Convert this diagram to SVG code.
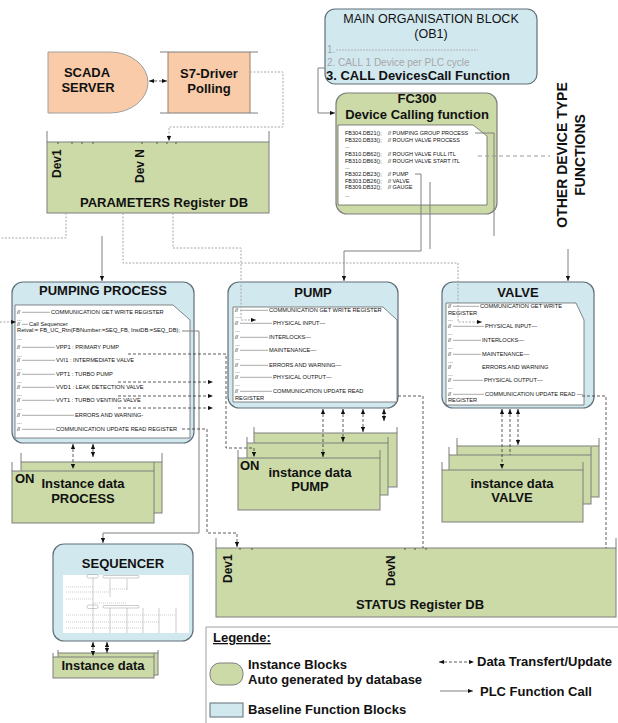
<svg xmlns="http://www.w3.org/2000/svg" width="618" height="723" viewBox="0 0 618 723">
<defs>
<marker id="arr" viewBox="0 0 6 6" refX="6" refY="3" markerWidth="5" markerHeight="5" markerUnits="userSpaceOnUse" orient="auto-start-reverse"><path d="M0,0.5 L6,3 L0,5.5 z" fill="#111"/></marker>
<style>
text{font-family:"Liberation Sans",Arial,sans-serif;fill:#111;}
.t13{font-size:13px;font-weight:bold;}
.t12{font-size:12px;font-weight:bold;}
.green{fill:#CBDAA7;stroke:#7F7F7F;stroke-width:1;}
.blue{fill:#D2E8EF;stroke:#5F6F78;stroke-width:1.2;}
.peach{fill:#F9CBA8;stroke:#A0A0A0;stroke-width:1;}
.doc{fill:#fff;stroke:#555;stroke-width:0.7;}
.side{stroke:#7F7F7F;stroke-width:1;fill:none;}
.tiny{font-size:5.7px;fill:#333;}
.fc{font-size:5.5px;fill:#333;}
.rule{stroke:#555;stroke-width:0.5;fill:none;}
.call{fill:none;stroke:#808080;stroke-width:1;}
.data{fill:none;stroke:#333;stroke-width:0.8;stroke-dasharray:3 2;}
.param{fill:none;stroke:#A8A8A8;stroke-width:1;stroke-dasharray:2 1.5;}
.tick{stroke:#555;stroke-width:1;}
</style>
</defs>
<rect width="618" height="723" fill="#fff"/>

<!-- SCADA server -->
<g id="scada-server">
<path class="peach" d="M48,52H110A38,30.5 0 0 1 110,113H48Z"/>
<text class="t13" x="87" y="77" text-anchor="middle">SCADA</text>
<text class="t13" x="88" y="92" text-anchor="middle">SERVER</text>
</g>

<!-- S7 driver -->
<g id="s7-driver">
<rect x="168" y="52" width="82" height="61" fill="#F9CBA8"/>
<path class="side" d="M160,52H258M160,113H258"/>
<path stroke="#9A7E6C" stroke-width="1" d="M168,52V113M250,52V113"/>
<text class="t13" x="209" y="78" text-anchor="middle">S7-Driver</text>
<text class="t13" x="209" y="93" text-anchor="middle">Polling</text>
</g>

<!-- Parameters register DB -->
<g id="parameters-db">
<rect class="green" x="47" y="142" width="222" height="71"/>
<path class="side" d="M47,131V142M269,131V142"/>
<path class="tick" d="M58,142V144M72,142V144M82,142V144M93,142V144M142,142V144M157,142V144M167,142V144M176,142V144"/>
<text class="t12" transform="translate(61,178) rotate(-90)">Dev1</text>
<text class="t12" transform="translate(144,183) rotate(-90)">Dev N</text>
<text class="t13" x="164" y="207" text-anchor="middle">PARAMETERS Register DB</text>
</g>

<!-- OB1 -->
<g id="ob1">
<rect class="blue" x="325" y="9" width="212" height="75" rx="10"/>
<text x="431" y="23" text-anchor="middle" font-size="12.5">MAIN ORGANISATION BLOCK</text>
<text x="431" y="38" text-anchor="middle" font-size="12.5">(OB1)</text>
<text x="327" y="53" font-size="10" style="fill:#A6A6A6">1.</text>
<path d="M336,50H478" stroke="#A6A6A6" stroke-width="0.8" stroke-dasharray="2 1"/>
<text x="327" y="66" font-size="10" style="fill:#A6A6A6">2. CALL 1 Device per PLC cycle</text>
<text class="t13" x="326" y="80">3. CALL DevicesCall Function</text>
</g>

<!-- FC300 -->
<g id="fc300">
<rect class="green" x="336" y="93" width="161" height="121" rx="11" style="stroke-width:1.2"/>
<text class="t13" x="417" y="103" text-anchor="middle">FC300</text>
<text class="t13" x="417" y="119" text-anchor="middle">Device Calling function</text>
<polygon class="doc" points="338,125 473,125 487,136 487,205 338,205"/>
<g class="fc">
<text x="345" y="135">FB304.DB21();</text><text x="388" y="135">// PUMPING GROUP PROCESS</text>
<text x="345" y="142">FB320.DB33();</text><text x="388" y="142">// ROUGH VALVE PROCESS</text>
<text x="345" y="148">...</text>
<text x="345" y="156">FB310.DB62();</text><text x="388" y="156">// ROUGH VALVE FULL ITL</text>
<text x="345" y="163">FB310.DB63();</text><text x="388" y="163">// ROUGH VALVE START ITL</text>
<text x="345" y="169">...</text>
<text x="345" y="176">FB302.DB23();</text><text x="388" y="176">// PUMP</text>
<text x="345" y="183">FB303.DB26();</text><text x="388" y="183">// VALVE</text>
<text x="345" y="189">FB309.DB32();</text><text x="388" y="189">// GAUGE</text>
<text x="345" y="197">...</text>
</g>
</g>

<!-- other device type functions -->
<g id="other-functions">
<text font-size="14" font-weight="bold" text-anchor="middle" transform="translate(567,155) rotate(-90)">OTHER DEVICE TYPE</text>
<text font-size="14" font-weight="bold" text-anchor="middle" transform="translate(585,155) rotate(-90)">FUNCTIONS</text>
</g>

<!-- Pumping process -->
<g id="pumping-process">
<rect class="blue" x="12" y="282" width="182" height="161" rx="11"/>
<text class="t13" x="103" y="295" text-anchor="middle">PUMPING PROCESS</text>
<polygon class="doc" points="15,305 173,305 190,320 190,438 15,438"/>
<path class="rule" d="M22,312.3H50M22,324.3H28M22,347.3H55M22,360.3H55M22,374.3H55M22,387.3H55M22,400.3H55M22,415.3H74M22,429.3H55"/>
<g class="tiny">
<text x="17" y="314">//</text><text x="51" y="314">COMMUNICATION GET WRITE REGISTER</text>
<text x="17" y="321">...</text>
<text x="17" y="326">//</text><text x="29" y="326">Call Sequencer</text>
<text x="17" y="332" textLength="163" lengthAdjust="spacingAndGlyphs">Retval:= FB_UC_Rtn(FBNumber:=SEQ_FB, InstDB:=SEQ_DB);</text>
<text x="17" y="340">...</text>
<text x="17" y="349">//</text><text x="56" y="349">VPP1 : PRIMARY PUMP</text>
<text x="17" y="357">...</text>
<text x="17" y="362">//</text><text x="56" y="362">VVI1 : INTERMEDIATE VALVE</text>
<text x="17" y="370">...</text>
<text x="17" y="376">//</text><text x="56" y="376">VPT1 : TURBO PUMP</text>
<text x="17" y="383">...</text>
<text x="17" y="389">//</text><text x="56" y="389">VVD1 : LEAK DETECTION VALVE</text>
<text x="17" y="396">...</text>
<text x="17" y="402">//</text><text x="56" y="402">VVT1 : TURBO VENTING VALVE</text>
<text x="17" y="410">...</text>
<text x="17" y="417">//</text><text x="75" y="417">ERRORS AND WARNING-</text>
<text x="17" y="424">...</text>
<text x="17" y="431">//</text><text x="56" y="431">COMMUNICATION UPDATE READ REGISTER</text>
</g>
</g>

<!-- Pump -->
<g id="pump">
<rect class="blue" x="228" y="282" width="170" height="126" rx="11"/>
<text class="t13" x="313" y="297" text-anchor="middle">PUMP</text>
<polygon class="doc" points="233,307 383,307 397,320 397,402 233,402"/>
<path class="rule" d="M240,310.3H268M240,323.3H272M240,337.3H268M240,350.3H268M240,365.3H268M240,377.3H272M240,391.3H272"/>
<g class="tiny">
<text x="235" y="312">//</text><text x="269" y="312">COMMUNICATION GET WRITE REGISTER</text>
<text x="235" y="318">...</text>
<text x="235" y="325">//</text><text x="273" y="325">PHYSICAL INPUT—</text>
<text x="235" y="332">...</text>
<text x="235" y="339">//</text><text x="269" y="339">INTERLOCKS—</text>
<text x="235" y="346">...</text>
<text x="235" y="352">//</text><text x="269" y="352">MAINTENANCE—</text>
<text x="235" y="360">...</text>
<text x="235" y="367">//</text><text x="269" y="367">ERRORS AND WARNING—</text>
<text x="235" y="373">...</text>
<text x="235" y="379">//</text><text x="273" y="379">PHYSICAL OUTPUT—</text>
<text x="235" y="386">...</text>
<text x="235" y="393">//</text><text x="273" y="393">COMMUNICATION UPDATE READ</text>
<text x="235" y="400">REGISTER</text>
</g>
</g>

<!-- Valve -->
<g id="valve">
<rect class="blue" x="442" y="282" width="152" height="126" rx="11"/>
<text class="t13" x="518" y="297" text-anchor="middle">VALVE</text>
<polygon class="doc" points="446,303 576,303 584,320 584,405 446,405"/>
<path class="rule" d="M453,306.3H479M453,326.3H484M453,340.3H481M453,354.3H481M453,380.3H483M453,394.3H484"/>
<g class="tiny">
<text x="448" y="308">//</text><text x="480" y="308">COMMUNICATION GET WRITE</text>
<text x="448" y="315">REGISTER</text>
<text x="448" y="321">...</text>
<text x="448" y="328">//</text><text x="485" y="328">PHYSICAL INPUT—</text>
<text x="448" y="335">...</text>
<text x="448" y="342">//</text><text x="482" y="342">INTERLOCKS—</text>
<text x="448" y="349">...</text>
<text x="448" y="356">//</text><text x="482" y="356">MAINTENANCE—</text>
<text x="448" y="363">...</text>
<text x="448" y="369">//</text><text x="482" y="369">ERRORS AND WARNING</text>
<text x="448" y="376">...</text>
<text x="448" y="382">//</text><text x="484" y="382">PHYSICAL OUTPUT—</text>
<text x="448" y="389">...</text>
<text x="448" y="396">//</text><text x="485" y="396">COMMUNICATION UPDATE READ —</text>
<text x="448" y="402">REGISTER</text>
</g>
</g>

<!-- Process instance data -->
<g id="instance-process">
<rect class="green" x="21" y="462" width="141" height="51"/>
<path class="side" d="M21,453V462M162,453V462"/>
<rect class="green" x="12" y="471" width="142" height="52"/>
<path class="side" d="M12,462V471M154,462V471"/>
<text class="t13" x="15" y="483">ON</text>
<text class="t13" x="83" y="488" text-anchor="middle">Instance data</text>
<text class="t13" x="83" y="503" text-anchor="middle">PROCESS</text>
</g>

<!-- Pump instance data -->
<g id="instance-pump">
<rect class="green" x="254" y="433" width="143" height="54"/>
<path class="side" d="M254,427V433M397,427V433"/>
<rect class="green" x="247" y="443" width="141" height="52"/>
<path class="side" d="M247,437V443M388,437V443"/>
<rect class="green" x="238" y="458" width="142" height="52"/>
<path class="side" d="M238,450V458M380,450V458"/>
<text class="t13" x="240" y="470">ON</text>
<text class="t13" x="310" y="477" text-anchor="middle">instance data</text>
<text class="t13" x="310" y="491" text-anchor="middle">PUMP</text>
</g>

<!-- Valve instance data -->
<g id="instance-valve">
<rect class="green" x="457" y="446" width="142" height="51"/>
<path class="side" d="M457,438V446M599,438V446"/>
<rect class="green" x="449" y="455" width="142" height="49"/>
<path class="side" d="M449,447V455M591,447V455"/>
<rect class="green" x="442" y="470" width="141" height="52"/>
<path class="side" d="M442,462V470M583,462V470"/>
<text class="t13" x="512" y="488" text-anchor="middle">instance data</text>
<text class="t13" x="512" y="502" text-anchor="middle">VALVE</text>
</g>

<!-- Sequencer -->
<g id="sequencer">
<rect class="blue" x="53" y="544" width="140" height="97" rx="11"/>
<text class="t13" x="123" y="568" text-anchor="middle">SEQUENCER</text>
<rect x="63" y="575" width="126" height="58" fill="#fff"/>
<g stroke="#9A9A9A" stroke-width="0.5" fill="none">
<rect x="87" y="574.5" width="11" height="3.5" rx="1.5"/>
<rect x="103" y="575.5" width="36" height="2.5" rx="1"/>
<path d="M93,578V633M110,579V597M127,579V590"/>
<path stroke-dasharray="1 1" d="M66,587H93M66,592H110M66,599H93M93,603H127M110,589H127"/>
<rect x="87" y="605" width="11" height="3.5" rx="1.5"/>
<rect x="103" y="605.5" width="36" height="2.5" rx="1"/>
<path d="M110,608V633M127,608V633M143,608V633M159,608V633M176,608V633"/>
<path stroke-dasharray="1 1" d="M66,615H176M66,622H159M66,628H143"/>
</g>
</g>

<!-- Sequencer instance data -->
<g id="instance-sequencer">
<rect class="green" x="58" y="653" width="100" height="22"/>
<path class="side" d="M58,650V653M158,650V653"/>
<rect class="green" x="53" y="657" width="101" height="21"/>
<path class="side" d="M53,653V657M154,653V657"/>
<text class="t13" x="103" y="670" text-anchor="middle">Instance data</text>
</g>

<!-- Status register DB -->
<g id="status-db">
<rect class="green" x="216" y="548" width="400" height="69"/>
<path class="side" d="M216,538V548M616,538V548"/>
<path class="tick" d="M240,548V550M252,548V550M405,548V550M415,548V550M426,548V550"/>
<text class="t12" transform="translate(232,583) rotate(-90)">Dev1</text>
<text class="t12" transform="translate(395,586) rotate(-90)">DevN</text>
<text class="t13" x="420" y="609" text-anchor="middle">STATUS Register DB</text>
</g>

<!-- Connectors -->
<g id="connectors">
<path class="data" d="M149,81H167" marker-start="url(#arr)" marker-end="url(#arr)"/>
<path class="param" d="M250,72H283V127H169V141" marker-end="url(#arr)"/>
<path class="param" d="M66,213V238H0"/>
<path class="param" d="M123,213V263H458V322H482" marker-end="url(#arr)"/>
<path class="param" d="M173,213V248H241V320H256" marker-end="url(#arr)"/>
<path class="call" d="M325,68H318V113H335" marker-end="url(#arr)"/>
<path class="call" d="M415,174H421V251H344V281" marker-end="url(#arr)"/>
<path class="call" d="M430,182V249"/>
<path class="call" d="M475,133H494V236"/>
<path class="call" d="M568,249V281" marker-end="url(#arr)"/>
<path class="call" d="M102,236V281" marker-end="url(#arr)"/>
<path d="M478,156H550" fill="none" stroke="#999" stroke-width="1" stroke-dasharray="4 3"/>
<path class="param" d="M0,322H16" marker-end="url(#arr)"/>
<path class="call" d="M182,331H199V533H103V543" marker-end="url(#arr)"/>
<path class="data" d="M182,429H207V533H237V547" marker-end="url(#arr)"/>
<path class="data" d="M128,354H226V448H254V457" marker-end="url(#arr)"/>
<path class="data" d="M118,382H213" marker-end="url(#arr)"/>
<path class="data" d="M118,396H213" marker-end="url(#arr)"/>
<path class="data" d="M118,408H213" marker-end="url(#arr)"/>
<path class="data" d="M398,396H423V548"/>
<path class="data" d="M582,396H606V548"/>
<path class="data" d="M73,444V469" marker-start="url(#arr)" marker-end="url(#arr)"/>
<path class="data" d="M93,444V457" marker-start="url(#arr)" marker-end="url(#arr)"/>
<path class="data" d="M323,409V457" marker-start="url(#arr)" marker-end="url(#arr)"/>
<path class="data" d="M343,409V442" marker-start="url(#arr)" marker-end="url(#arr)"/>
<path class="data" d="M363,409V432" marker-start="url(#arr)" marker-end="url(#arr)"/>
<path class="data" d="M384,409V421" marker-start="url(#arr)" marker-end="url(#arr)"/>
<path class="data" d="M502,409V469" marker-start="url(#arr)" marker-end="url(#arr)"/>
<path class="data" d="M510,409V455" marker-start="url(#arr)"/>
<path class="data" d="M518,409V445" marker-start="url(#arr)" marker-end="url(#arr)"/>
<path class="data" d="M93,642V656" marker-start="url(#arr)" marker-end="url(#arr)"/>
<path class="data" d="M107,642V653" marker-start="url(#arr)" marker-end="url(#arr)"/>
</g>

<!-- Legend -->
<g id="legend">
<path d="M618,627H206V723" fill="none" stroke="#A0A0A0" stroke-width="1"/>
<text class="t13" x="213" y="642" text-decoration="underline">Legende:</text>
<rect class="green" x="210" y="663" width="33" height="22" rx="10"/>
<text class="t13" x="248" y="669">Instance Blocks</text>
<text class="t13" x="248" y="684">Auto generated by database</text>
<rect class="blue" x="210" y="703" width="33" height="14" style="stroke-width:1"/>
<text class="t13" x="248" y="714">Baseline Function Blocks</text>
<path class="data" d="M439,662H474" marker-start="url(#arr)" marker-end="url(#arr)"/>
<text class="t13" x="477" y="666">Data Transfert/Update</text>
<path class="call" d="M440,691H473" stroke="#333" marker-end="url(#arr)"/>
<text class="t13" x="480" y="696">PLC Function Call</text>
</g>
</svg>
